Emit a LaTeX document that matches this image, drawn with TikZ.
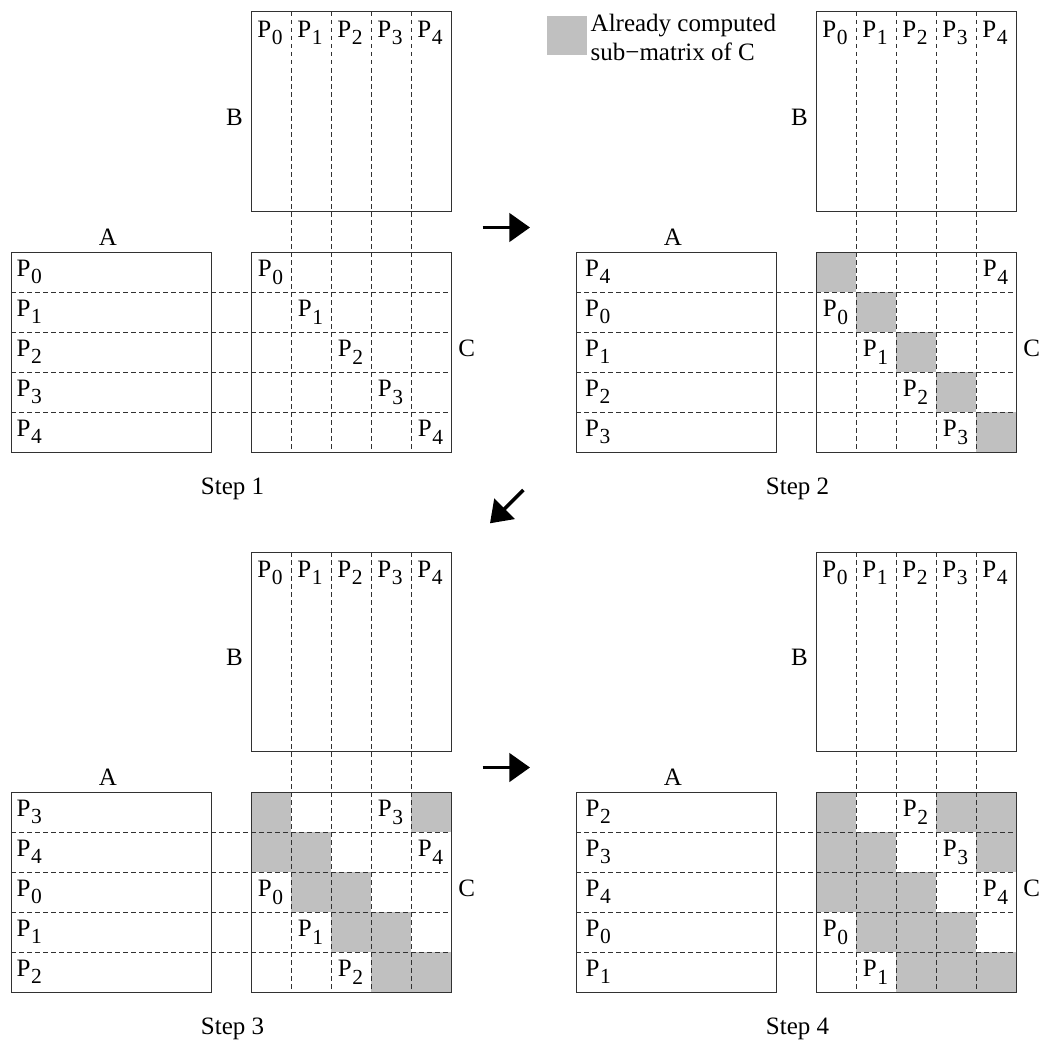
\documentclass[tikz,border=0pt]{standalone}
\usepackage{fontspec}
\setmainfont{Liberation Serif}
\usetikzlibrary{arrows.meta}

\definecolor{donecell}{RGB}{192,192,192}
\definecolor{edgegray}{RGB}{50,50,50}

% processor label P_i with a lowered subscript
\newcommand\Pp[1]{P\kern0.4pt\raisebox{-7.5pt}{\fontsize{21.5}{21.5}\selectfont #1}}

\tikzset{
  box/.style={draw=edgegray, line width=1pt},
  cut/.style={draw=edgegray, line width=0.95pt, dash pattern=on 4.5pt off 3.5pt},
  lab/.style={inner sep=0pt, font=\fontsize{25}{29}\selectfont},
  flowarrow/.style={line width=3.6pt, -{Triangle[length=20.7pt,width=28.4pt]}},
}

% one step of the algorithm:
% #1,#2 shift; #3 name prefix; #4 row owners of A; #5 shaded cells r/c of C;
% #6 owner labels r/c/p in C; #7 left offset of the A labels; #8 step number
\newcommand\stepfig[8]{%
  \begin{scope}[shift={(#1,#2)}]
    \foreach \r/\c in {#5}
      \fill[donecell] (251+40*\c,252+40*\r) rectangle ++(40,40);
    \foreach \i in {1,...,4} {
      \draw[cut] (251+40*\i,12) -- (251+40*\i,452);
      \draw[cut] (11,252+40*\i) -- (451,252+40*\i);
    }
    \draw[box] (251,12) rectangle (451,211);
    \draw[box] (11,252) rectangle (211,452);
    \draw[box] (251,252) rectangle (451,452);
    \foreach \i in {0,...,4}
      \node[lab] (#3b\i) at (270+40*\i,33) {\Pp{\i}};
    \foreach \p [count=\r from 0] in {#4}
      \node[lab,anchor=west] (#3a\r) at (#7,272+40*\r) {\Pp{\p}};
    \foreach \r/\c/\p in {#6}
      \node[lab] (#3c\r) at (270.5+40*\c,272.5+40*\r) {\Pp{\p}};
    \node[lab] (#3nameA) at (108,237.5) {A};
    \node[lab] (#3nameB) at (234.5,117.5) {B};
    \node[lab] (#3nameC) at (466.7,348.3) {C};
    \node[lab,anchor=base] (#3caption) at (232.5,494) {Step #8};
  \end{scope}}

\begin{document}
\begin{tikzpicture}[x=1pt,y=-1pt]
  \useasboundingbox (0,0) rectangle (1041,1041);

  \stepfig{0}{0}{s1}{0,1,2,3,4}{}{0/0/0,1/1/1,2/2/2,3/3/3,4/4/4}{16.5}{1}
  \stepfig{565}{0}{s2}{4,0,1,2,3}{0/0,1/1,2/2,3/3,4/4}%
    {0/4/4,1/0/0,2/1/1,3/2/2,4/3/3}{20}{2}
  \stepfig{0}{540}{s3}{3,4,0,1,2}%
    {0/0,0/4,1/0,1/1,2/1,2/2,3/2,3/3,4/3,4/4}%
    {0/3/3,1/4/4,2/0/0,3/1/1,4/2/2}{16.5}{3}
  \stepfig{565}{540}{s4}{2,3,4,0,1}%
    {0/0,0/3,0/4,1/0,1/1,1/4,2/0,2/1,2/2,3/1,3/2,3/3,4/2,4/3,4/4}%
    {0/2/2,1/3/3,2/4/4,3/0/0,4/1/1}{20.5}{4}

  % legend
  \fill[donecell] (547,16) rectangle (587,55);
  \node[lab,anchor=base west] (legend1) at (590.5,31.7) {Already computed};
  \node[lab,anchor=base west] (legend2) at (590.5,60.7) {sub−matrix of C};

  % order of the steps
  \coordinate (go12s) at (482.7,227.5);
  \coordinate (go12e) at (530,227.5);
  \coordinate (go23s) at (523.3,490);
  \coordinate (go23e) at (490,523.3);
  \coordinate (go34s) at (482.7,767.5);
  \coordinate (go34e) at (530,767.5);
  \draw[flowarrow] (go12s) -- (go12e);
  \draw[flowarrow] (go23s) -- (go23e);
  \draw[flowarrow] (go34s) -- (go34e);
\end{tikzpicture}
\end{document}
